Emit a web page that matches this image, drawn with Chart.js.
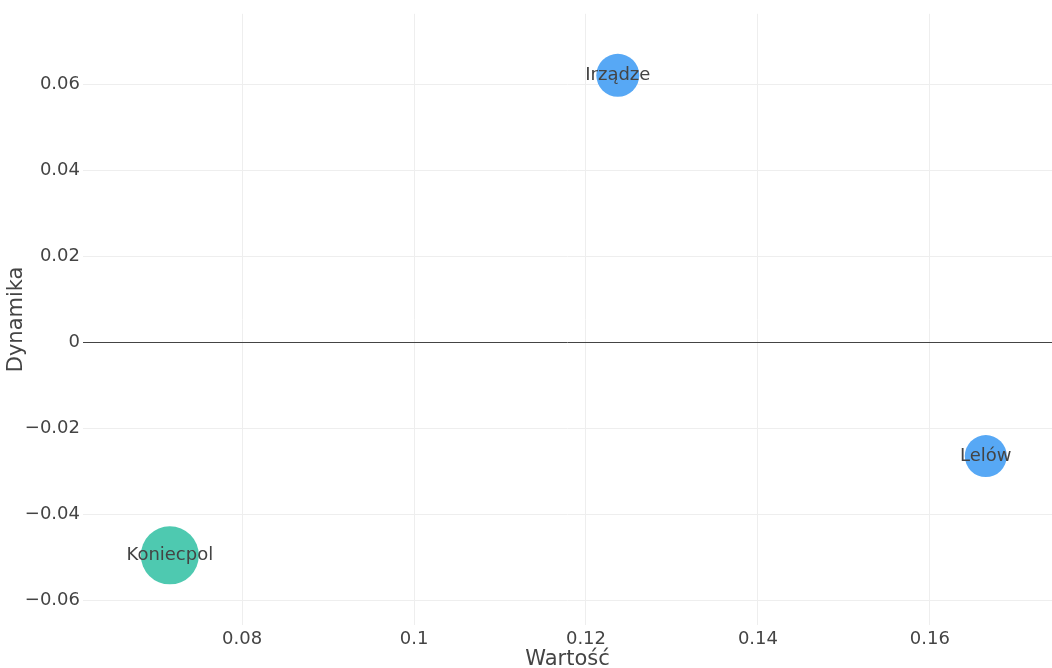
<!DOCTYPE html>
<html>
<head>
<meta charset="utf-8">
<script src="https://cdn.jsdelivr.net/npm/chart.js@4/dist/chart.umd.min.js"></script>
<style>
  html, body { margin: 0; padding: 0; background: #fff; }
  #wrap { width: 1052px; height: 668px; }
</style>
</head>
<body>
<div id="wrap"><canvas id="bubbleChart" width="1052" height="668"></canvas></div>
<script>
// ── Data ───────────────────────────────────────
const names    = ['Koniecpol', 'Irządze', 'Lelów'];
const wartosc  = [0.0716, 0.1237, 0.1665];
const dynamika = [-0.0496, 0.0621, -0.0265];
const sizes    = [29, 21.5, 21];

const xTicks = [0.08, 0.1, 0.12, 0.14, 0.16];
const yTicks = [-0.06, -0.04, -0.02, 0, 0.02, 0.04, 0.06];

const COLORS = ['#4ec9b0', '#57a8f5', '#57a8f5'];
const FONT = 'DejaVu Sans, Verdana, sans-serif';
const TEXT = '#444';

const fmtTick = v => String(+v.toFixed(2)).replace('-', '\u2212');

// labels drawn in the middle of each bubble
const bubbleLabels = {
  id: 'bubbleLabels',
  afterDatasetsDraw(chart) {
    const { ctx } = chart;
    const meta = chart.getDatasetMeta(0);
    ctx.save();
    ctx.font = '18px ' + FONT;
    ctx.fillStyle = TEXT;
    ctx.textAlign = 'center';
    ctx.textBaseline = 'middle';
    meta.data.forEach((pt, i) => ctx.fillText(names[i], pt.x, pt.y));
    ctx.restore();
  },
};

new Chart(document.getElementById('bubbleChart'), {
  type: 'bubble',
  data: {
    datasets: [{
      data: names.map((n, i) => ({ x: wartosc[i], y: dynamika[i], r: sizes[i] })),
      backgroundColor: COLORS,
      borderWidth: 0,
      hoverRadius: 0,
    }],
  },
  options: {
    responsive: false,
    devicePixelRatio: 1,
    animation: false,
    layout: { autoPadding: false, padding: { top: 10, left: 0, right: 0, bottom: 0 } },
    plugins: {
      legend: { display: false },
      tooltip: { enabled: false },
    },
    scales: {
      x: {
        type: 'linear',
        min: 0.0615,
        max: 0.1742,
        afterBuildTicks: s => { s.ticks = xTicks.map(v => ({ value: v })); },
        afterFit: s => { s.height = 43; },
        grid: { color: '#eeeeee', lineWidth: 1, drawTicks: false },
        border: { display: false },
        ticks: {
          padding: 4,
          color: TEXT,
          font: { family: FONT, size: 18 },
          maxRotation: 0,
          callback: v => fmtTick(v),
        },
        title: {
          display: true,
          text: 'Wartość',
          color: TEXT,
          padding: 0,
          font: { family: FONT, size: 21, lineHeight: 0.85 },
        },
      },
      y: {
        type: 'linear',
        min: -0.0658,
        max: 0.0764,
        afterBuildTicks: s => { s.ticks = yTicks.map(v => ({ value: v })); },
        afterFit: s => { s.width = 83; },
        grid: {
          color: ctx => (ctx.tick && ctx.tick.value === 0 ? '#444' : '#eeeeee'),
          lineWidth: 1,
          drawTicks: false,
        },
        border: { display: false },
        ticks: {
          padding: 3,
          color: TEXT,
          font: { family: FONT, size: 18 },
          callback: v => fmtTick(v),
        },
        title: {
          display: true,
          text: 'Dynamika',
          color: TEXT,
          padding: { top: 4, bottom: 0 },
          font: { family: FONT, size: 21, lineHeight: 1.2 },
        },
      },
    },
  },
  plugins: [bubbleLabels],
});
</script>
</body>
</html>
